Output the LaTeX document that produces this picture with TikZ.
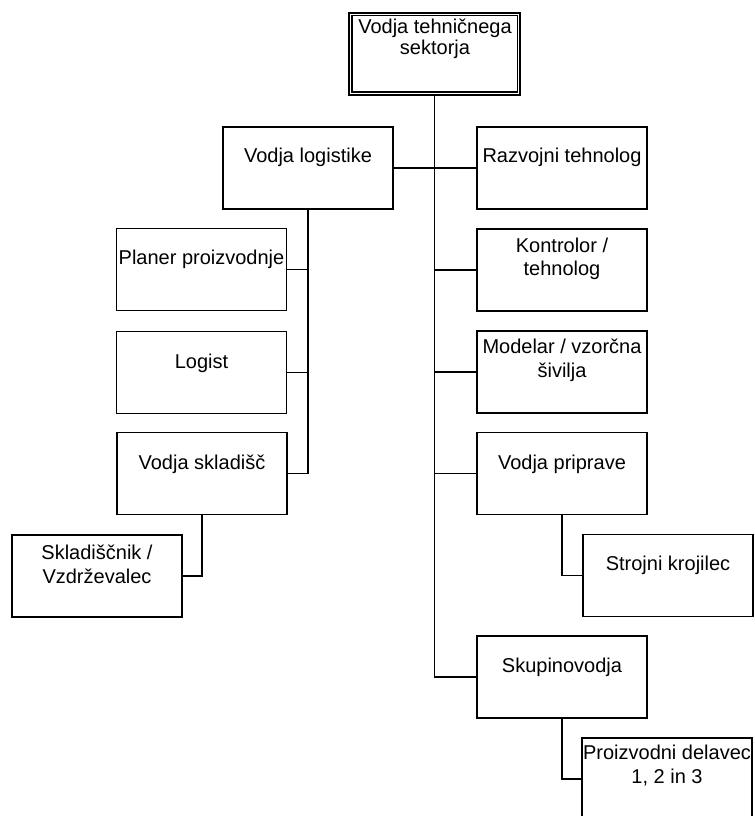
\documentclass[tikz,border=0pt]{standalone}
\usepackage{fontspec}
\setmainfont{Liberation Sans}
\begin{document}
\begin{tikzpicture}[x=0.75pt,y=-0.75pt,
 box/.style={draw, line width=1.1pt, minimum width=127.5pt, minimum height=61.5pt, inner sep=0pt},
 lbl/.style={font=\fontsize{15}{17.5}\selectfont, align=center, anchor=base, inner sep=0pt},
 conn/.style={line width=1.4pt}]
\useasboundingbox[fill=white] (0,0) rectangle (754,816);

% boxes
\node[box, minimum width=128.25pt] (top) at (434.5,54) {};
\draw[line width=1.1pt] ([shift={(3.5,3.5)}]top.north west) rectangle ([shift={(-3.5,-3.5)}]top.south east);
\node[box] (vl) at (308,168) {};
\node[box] (rt) at (562,168) {};
\node[box] (pp) at (201.5,269.5) {};
\node[box] (lg) at (201.5,372.5) {};
\node[box] (vs) at (202,473.5) {};
\node[box] (skl) at (97,576) {};
\node[box] (kt) at (562,270) {};
\node[box] (mv) at (562,372) {};
\node[box] (vp) at (562,473.5) {};
\node[box] (sk) at (668,575.5) {};
\node[box] (sku) at (562,677) {};
\node[box] (pd) at (667,779) {};

% texts (base anchor = baseline of the last line)
\node[lbl, font=\fontsize{15}{15.75}\selectfont] (topt) at (435,55) {Vodja tehničnega\\sektorja};
\node[lbl] (vlt) at (308,163) {Vodja logistike};
\node[lbl] (rtt) at (562,163) {Razvojni tehnolog};
\node[lbl] (ppt) at (201.5,265) {Planer proizvodnje};
\node[lbl] (lgt) at (201.5,368) {Logist};
\node[lbl] (vst) at (202,469) {Vodja skladišč};
\node[lbl] (sklt) at (97,583) {Skladiščnik /\\Vzdrževalec};
\node[lbl] (ktt) at (562,276) {Kontrolor /\\tehnolog};
\node[lbl] (mvt) at (562,377) {Modelar / vzorčna\\šivilja};
\node[lbl] (vpt) at (562,469) {Vodja priprave};
\node[lbl] (skt) at (668,570) {Strojni krojilec};
\node[lbl] (skut) at (562,672) {Skupinovodja};
\node[lbl] (pdt) at (667,783) {Proizvodni delavec\\1, 2 in 3};

% connectors
\draw[conn] (top.south) |- (sku.west);
\draw[conn] (vl.east) -- (rt.west);
\draw[conn] (kt.west) -- (kt.west -| top.south);
\draw[conn] (mv.west) -- (mv.west -| top.south);
\draw[conn] (vp.west) -- (vp.west -| top.south);
\draw[conn] (vl.south) |- (vs.east);
\draw[conn] (pp.east) -- (pp.east -| vl.south);
\draw[conn] (lg.east) -- (lg.east -| vl.south);
\draw[conn] (vs.south) |- (skl.east);
\draw[conn] (vp.south) |- (sk.west);
\draw[conn] (sku.south) |- (pd.west);
\end{tikzpicture}
\end{document}
